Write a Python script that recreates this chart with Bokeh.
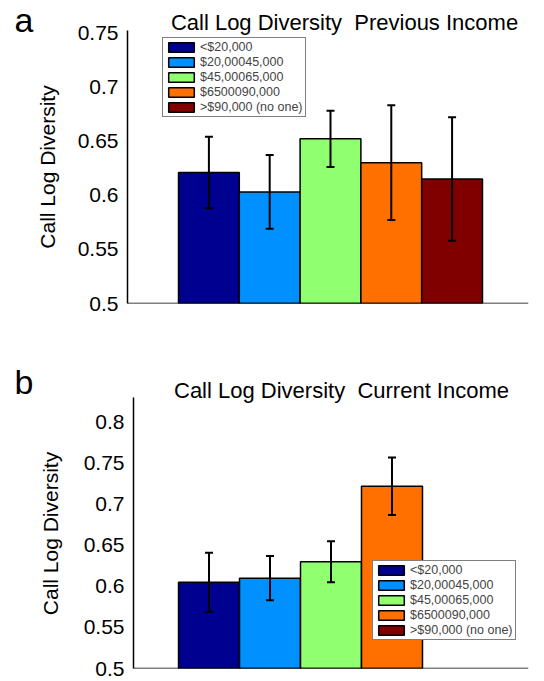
import math
from bokeh.plotting import figure
from bokeh.models import (ColumnDataSource, Whisker, TeeHead, Legend, LegendItem,
                          Span, Label, FixedTicker, Range1d)
from bokeh.layouts import column, row
from bokeh.embed import file_html
from bokeh.resources import INLINE

# ---------------- data ----------------
categories = ["<$20,000", "$20,00045,000", "$45,00065,000", "$6500090,000", ">$90,000 (no one)"]
colors = ["#000090", "#0090FF", "#90FF70", "#FF7000", "#800000"]
x_pos = [1, 2, 3, 4, 5]

prev_mean = [0.621, 0.603, 0.652, 0.630, 0.615]
prev_err = [0.033, 0.034, 0.026, 0.053, 0.057]

curr_mean = [0.605, 0.610, 0.630, 0.722, float("nan")]
curr_err = [0.036, 0.027, 0.025, 0.035, float("nan")]

ticks_a = [0.5, 0.55, 0.6, 0.65, 0.7, 0.75]
tick_labels_a = ["0.5", "0.55", "0.6", "0.65", "0.7", "0.75"]
ticks_b = [0.5, 0.55, 0.6, 0.65, 0.7, 0.75, 0.8]
tick_labels_b = ["0.5", "0.55", "0.6", "0.65", "0.7", "0.75", "0.8"]

title_a = "Call Log Diversity \u00a0Previous Income"
title_b = "Call Log Diversity \u00a0Current Income"
ylabel = "Call Log Diversity"

FONT = "Liberation Sans"


def side_fig(letter, width, height, bottom_border, letter_pos, ylabel_pos):
    """Left strip holding the panel letter and the y-axis title."""
    f = figure(width=width, height=height, output_backend="svg", toolbar_location=None,
               x_range=Range1d(0, 1), y_range=Range1d(0, 1),
               x_axis_type=None, y_axis_type=None,
               min_border_left=0, min_border_right=0, min_border_top=0,
               min_border_bottom=bottom_border)
    f.grid.visible = False
    f.outline_line_color = None
    f.add_layout(Label(x=letter_pos[0], y=letter_pos[1], x_units="screen", y_units="screen",
                       text=letter, text_font=FONT, text_font_size="34px",
                       text_align="left", text_baseline="middle", text_color="black"))
    f.add_layout(Label(x=ylabel_pos[0], y=ylabel_pos[1], x_units="screen", y_units="screen",
                       text=ylabel, text_font=FONT, text_font_size="21px",
                       angle=math.pi / 2, text_align="center", text_baseline="middle",
                       text_color="black"))
    return f


def make_panel(means, errs, ticks, tick_labels, ybounds, ytop, xrange, width, height,
               borders, title, title_pos, legend_loc):
    bl, br, bb = borders
    p = figure(width=width, height=height, output_backend="svg", toolbar_location=None,
               x_range=Range1d(*xrange), y_range=Range1d(ybounds[0], ytop),
               min_border_left=bl, min_border_right=br, min_border_top=0,
               min_border_bottom=bb)
    p.outline_line_color = None
    p.xgrid.visible = False
    p.ygrid.visible = False
    p.xaxis.visible = False
    p.background_fill_color = "white"

    src = ColumnDataSource(dict(x=x_pos, top=means, color=colors, name=categories))
    r = p.vbar(x="x", top="top", bottom=ybounds[0], width=1.0, fill_color="color",
               line_color="black", line_width=1.5, source=src)

    ok = [i for i in range(len(means)) if not math.isnan(means[i])]
    wsrc = ColumnDataSource(dict(
        x=[x_pos[i] for i in ok],
        upper=[means[i] + errs[i] for i in ok],
        lower=[means[i] - errs[i] for i in ok]))
    w = Whisker(source=wsrc, base="x", upper="upper", lower="lower",
                line_color="black", line_width=2, level="overlay",
                upper_head=TeeHead(size=8, line_width=2, line_color="black"),
                lower_head=TeeHead(size=8, line_width=2, line_color="black"))
    p.add_layout(w)

    p.add_layout(Span(location=ybounds[0], dimension="width", line_color="black",
                      line_width=1.5))

    ax = p.yaxis[0]
    ax.bounds = ybounds
    ax.ticker = FixedTicker(ticks=ticks)
    ax.major_label_overrides = {t: l for t, l in zip(ticks, tick_labels)}
    ax.major_tick_line_color = None
    ax.minor_tick_line_color = None
    ax.major_tick_out = 0
    ax.major_tick_in = 0
    ax.major_label_standoff = 9
    ax.major_label_text_font = FONT
    ax.major_label_text_font_size = "21px"
    ax.major_label_text_color = "black"
    ax.axis_line_color = "black"
    ax.axis_line_width = 1.5

    p.add_layout(Label(x=title_pos[0], y=title_pos[1], x_units="screen", y_units="screen",
                       text=title, text_font=FONT, text_font_size="22px",
                       text_align="center", text_baseline="middle",
                       text_color="black"))

    items = [LegendItem(label=categories[i], renderers=[r], index=i) for i in range(5)]
    leg = Legend(items=items, location=legend_loc, border_line_color="black",
                 border_line_width=1, background_fill_color="white",
                 background_fill_alpha=1.0, label_text_font=FONT,
                 label_text_font_size="12.5px", label_text_line_height=1.0,
                 glyph_width=32, glyph_height=12, label_height=12, spacing=1,
                 padding=2, margin=0, label_standoff=3)
    p.add_layout(leg, "center")
    return p


# panel a: frame bottom at canvas y 303; 0.5..0.752 spans 273 px
sa = side_fig("a", 70, 340, 37, (14, 283.3), (47, 136.5))
pa = make_panel(prev_mean, prev_err, ticks_a, tick_labels_a, (0.5, 0.752), 0.7797,
                (-0.339, 6.257), 474, 340, (57, 16, 37), title_a, (217, 281),
                (35, 186))
# panel b: frame bottom at canvas y 328; 0.5..0.83 spans 270 px
sb = side_fig("b", 76, 341, 13, (14, 286.8), (50, 135))
pb = make_panel(curr_mean, curr_err, ticks_b, tick_labels_b, (0.5, 0.830), 0.8996,
                (-0.238, 6.238), 468, 341, (57, 16, 13), title_b, (208, 278),
                (239, 28))

layout = column(row(sa, pa), row(sb, pb))
open("out.html", "w").write(file_html(layout, INLINE))
